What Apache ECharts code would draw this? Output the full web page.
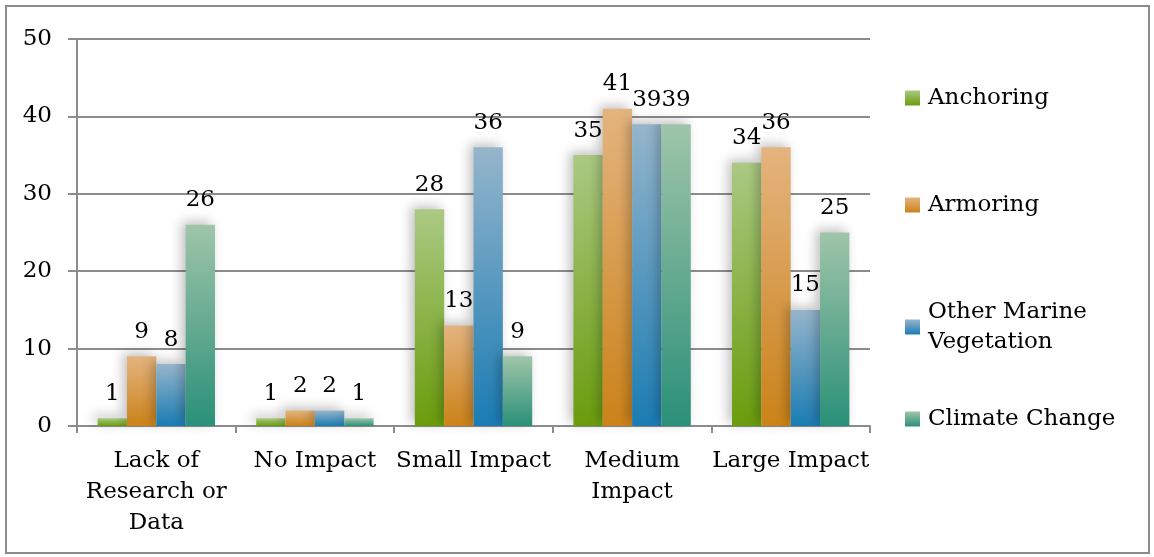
<!DOCTYPE html>
<html>
<head>
<meta charset="utf-8">
<script src="https://cdn.jsdelivr.net/npm/echarts@6/dist/echarts.min.js"></script>
<style>html,body{margin:0;padding:0;background:#fff;}#c{width:1154px;height:557px;}</style>
</head>
<body>
<div id="c"></div>
<script>
const categories = ['Lack of\nResearch or\nData', 'No Impact', 'Small Impact', 'Medium\nImpact', 'Large Impact'];
const seriesNames = ['Anchoring', 'Armoring', 'Other Marine Vegetation', 'Climate Change'];
const anchoring = [1, 1, 28, 35, 34];
const armoring = [9, 2, 13, 41, 36];
const otherMarine = [8, 2, 36, 39, 15];
const climateChange = [26, 1, 9, 39, 25];
const yTicks = [0, 10, 20, 30, 40, 50];

const FONT = 'DejaVu Serif';
const FS = 23;
const gradients = [
  ['#abc983', '#6a9c0c'],
  ['#e4b47f', '#cb8218'],
  ['#95b5cb', '#1a7cb3'],
  ['#9fc5a9', '#2a9078']
];
function grad(c) {
  return new echarts.graphic.LinearGradient(0, 0, 0, 1, [
    { offset: 0, color: c[0] }, { offset: 1, color: c[1] }
  ]);
}
const values = [anchoring, armoring, otherMarine, climateChange];
const series = seriesNames.map((n, i) => ({
  name: n,
  type: 'bar',
  data: values[i],
  barGap: '0%',
  barCategoryGap: '26%',
  itemStyle: {
    color: grad(gradients[i]),
    shadowColor: 'rgba(0,0,0,0.25)',
    shadowBlur: 12,
    shadowOffsetX: -4,
    shadowOffsetY: -3
  },
  label: {
    show: true,
    position: 'top',
    distance: 13,
    color: '#000',
    fontFamily: FONT,
    fontSize: FS
  }
}));

const legendTops = [78, 185, 292, 399];
const legends = seriesNames.map((n, i) => ({
  data: [n],
  orient: 'vertical',
  left: 900,
  top: legendTops[i],
  itemWidth: 15,
  itemHeight: 15,
  itemGap: 0,
  icon: 'rect',
  selectedMode: false,
  itemStyle: { shadowBlur: 0, shadowColor: 'rgba(0,0,0,0)', shadowOffsetX: 0, shadowOffsetY: 0 },
  formatter: name => name === 'Other Marine Vegetation' ? 'Other Marine\nVegetation' : name,
  textStyle: { fontFamily: FONT, fontSize: FS, color: '#000', lineHeight: 30, padding: [0, 0, 0, 3] }
}));

const chart = echarts.init(document.getElementById('c'), null, { renderer: 'canvas' });
chart.setOption({
  animation: false,
  backgroundColor: '#fff',
  graphic: [{
    type: 'rect',
    shape: { x: 6, y: 6, width: 1143, height: 547 },
    style: { fill: 'none', stroke: '#8c8c8c', lineWidth: 2 },
    silent: true
  }],
  legend: legends,
  grid: { left: 77, right: 284, top: 39, bottom: 131 },
  xAxis: {
    type: 'category',
    data: categories,
    axisLine: { show: true, lineStyle: { color: '#8c8c8c', width: 2 } },
    axisTick: { show: true, length: 7, alignWithLabel: false, lineStyle: { color: '#8c8c8c', width: 2 } },
    axisLabel: { interval: 0, margin: 20, color: '#000', fontFamily: FONT, fontSize: FS, lineHeight: 31 }
  },
  yAxis: {
    type: 'value',
    min: yTicks[0],
    max: yTicks[yTicks.length - 1],
    interval: 10,
    axisLine: { show: true, lineStyle: { color: '#8c8c8c', width: 2 } },
    axisTick: { show: true, length: 9, lineStyle: { color: '#8c8c8c', width: 2 } },
    splitLine: { show: true, lineStyle: { color: '#8c8c8c', width: 2 } },
    axisLabel: { margin: 25, color: '#000', fontFamily: FONT, fontSize: FS }
  },
  series: series
});
</script>
</body>
</html>
